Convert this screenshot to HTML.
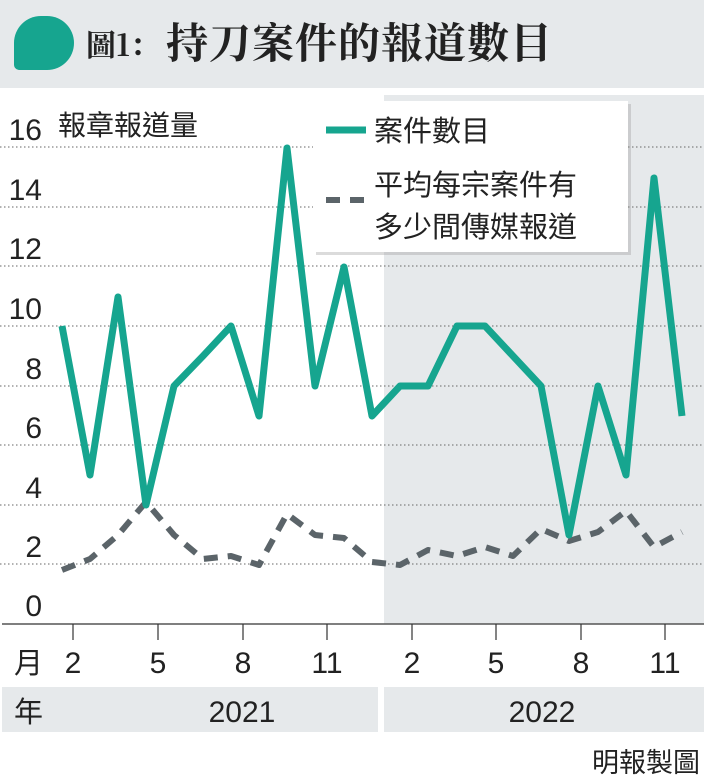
<!DOCTYPE html>
<html><head><meta charset="utf-8"><style>
body{margin:0;width:704px;height:782px;background:#fff;position:relative;overflow:hidden;font-family:"Liberation Sans","Noto Sans CJK TC",sans-serif;color:#222}
.a{position:absolute}
</style></head><body>
<div class="a" style="left:0;top:0;width:704px;height:88px;background:#e6e9eb"></div>
<div class="a" style="left:14px;top:16px;width:60px;height:54px;background:#16a58f;border-radius:30px 30px 30px 6px"></div>
<div class="a" style="left:86px;top:18px;font-family:'Noto Serif CJK SC','Liberation Serif',serif;font-weight:bold;font-size:30px;line-height:50px">圖1：</div>
<div class="a" style="left:166px;top:12px;font-family:'Noto Serif CJK SC','Liberation Serif',serif;font-weight:bold;font-size:42px;line-height:58px;letter-spacing:1px">持刀案件的報道數目</div>
<svg class="a" style="left:0;top:0" width="704" height="782">
<rect x="384" y="95" width="320" height="529" fill="#e6e9eb"/>
<g stroke="#666" stroke-width="1" stroke-dasharray="1.5,2.5">
<line x1="0" y1="147" x2="704" y2="147"/><line x1="0" y1="207" x2="704" y2="207"/><line x1="0" y1="266" x2="704" y2="266"/><line x1="0" y1="326" x2="704" y2="326"/><line x1="0" y1="386" x2="704" y2="386"/><line x1="0" y1="445" x2="704" y2="445"/><line x1="0" y1="505" x2="704" y2="505"/><line x1="0" y1="564" x2="704" y2="564"/>
</g>
<line x1="2" y1="624" x2="704" y2="624" stroke="#555" stroke-width="1.5"/>
<g stroke="#333" stroke-width="1.2"><line x1="73" y1="624" x2="73" y2="640"/><line x1="158" y1="624" x2="158" y2="640"/><line x1="243" y1="624" x2="243" y2="640"/><line x1="327" y1="624" x2="327" y2="640"/><line x1="412" y1="624" x2="412" y2="640"/><line x1="496" y1="624" x2="496" y2="640"/><line x1="581" y1="624" x2="581" y2="640"/><line x1="665" y1="624" x2="665" y2="640"/></g>
<g font-size="30" fill="#222" text-anchor="end"><text x="42" y="140">16</text><text x="42" y="200">14</text><text x="42" y="259">12</text><text x="42" y="319">10</text><text x="42" y="379">8</text><text x="42" y="438">6</text><text x="42" y="498">4</text><text x="42" y="557">2</text><text x="42" y="616">0</text></g>
<text x="58" y="135" font-size="28" font-family="Noto Sans CJK TC,sans-serif" fill="#222">報章報道量</text>
<polyline fill="none" stroke="#5b6469" stroke-width="6" stroke-dasharray="14,10" stroke-linejoin="round" points="62,570 90,559 118,535 146,502 174,535 203,559 231,556 259,565 287,514 315,535 344,538 372,562 400,565 428,550 457,556 485,547 513,556 541,529 569,541 598,532 626,511 654,547 682,532"/>
<polyline fill="none" stroke="#16a58f" stroke-width="7" stroke-linejoin="round" points="62,326 90,475 118,297 146,505 174,386 203,356 231,326 259,416 287,148 315,386 344,267 372,416 400,386 428,386 457,326 485,326 513,356 541,386 569,535 598,386 626,475 654,178 682,416"/>
<g font-size="30" fill="#222" text-anchor="middle"><text x="73" y="673">2</text><text x="158" y="673">5</text><text x="243" y="673">8</text><text x="327" y="673">11</text><text x="412" y="673">2</text><text x="496" y="673">5</text><text x="581" y="673">8</text><text x="665" y="673">11</text></g>
<text x="14" y="673" font-size="29" font-family="Noto Sans CJK TC,sans-serif" fill="#222">月</text>
<rect x="2" y="687" width="376" height="45" fill="#e6e9eb"/><rect x="384" y="687" width="320" height="45" fill="#e6e9eb"/>
<text x="14" y="722" font-size="29" font-family="Noto Sans CJK TC,sans-serif" fill="#222">年</text>
<text x="242" y="722" font-size="30" text-anchor="middle" fill="#222">2021</text>
<text x="542" y="722" font-size="30" text-anchor="middle" fill="#222">2022</text>
<text x="700" y="772" font-size="27" text-anchor="end" font-family="Noto Sans CJK TC,sans-serif" fill="#222">明報製圖</text>
<rect x="316" y="104" width="315" height="151" fill="#999" opacity="0.35"/>
<rect x="313" y="101" width="315" height="151" fill="#fff"/>
<line x1="326" y1="130" x2="366" y2="130" stroke="#16a58f" stroke-width="7"/>
<line x1="326" y1="200" x2="370" y2="200" stroke="#5b6469" stroke-width="6" stroke-dasharray="14,10"/>
<g font-size="29" font-family="Noto Sans CJK TC,sans-serif" fill="#222"><text x="374" y="141">案件數目</text><text x="374" y="195">平均每宗案件有</text><text x="374" y="237">多少間傳媒報道</text></g>
</svg>
</body></html>
